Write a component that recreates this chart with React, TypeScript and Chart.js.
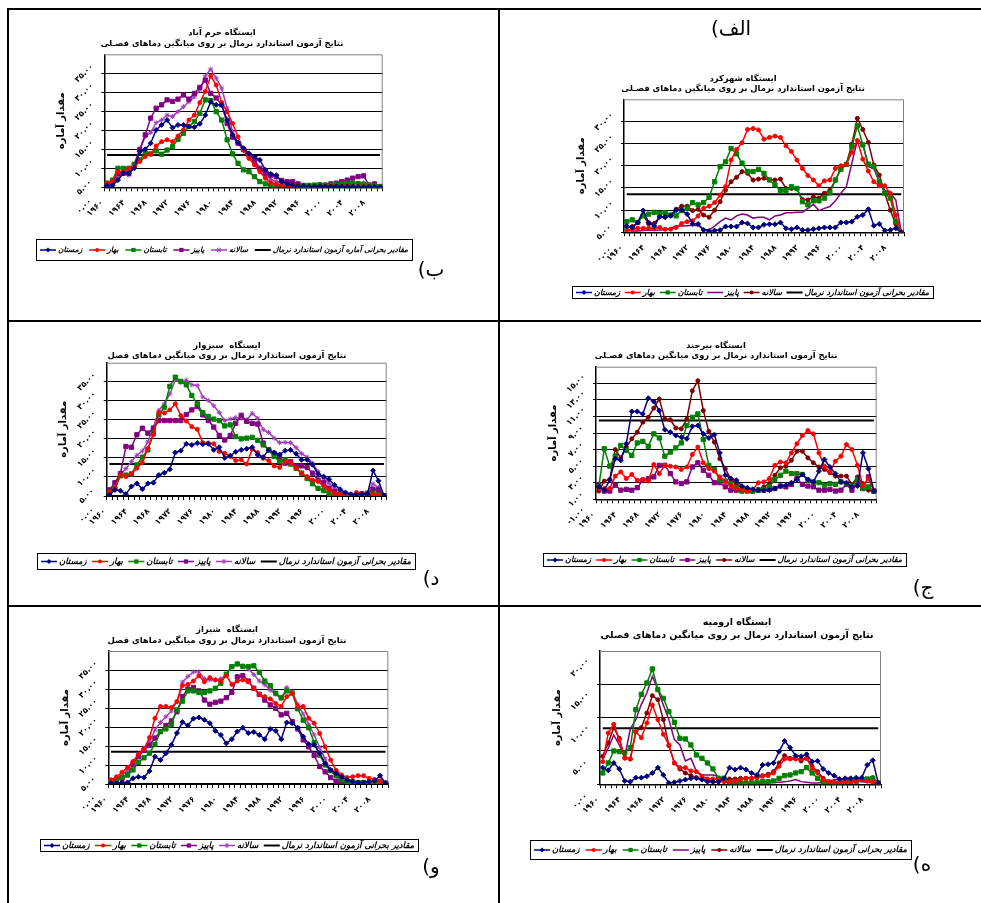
import React, { useEffect, useRef } from 'react';
import { Chart, registerables } from 'chart.js';

Chart.register(...registerables);

const FONT = '"DejaVu Sans", sans-serif';

// ---------- categories & tick labels ----------
const years = [
  1960, 1961, 1962, 1963, 1964, 1965, 1966, 1967, 1968, 1969,
  1970, 1971, 1972, 1973, 1974, 1975, 1976, 1977, 1978, 1979,
  1980, 1981, 1982, 1983, 1984, 1985, 1986, 1987, 1988, 1989,
  1990, 1991, 1992, 1993, 1994, 1995, 1996, 1997, 1998, 1999,
  2000, 2001, 2002, 2003, 2004, 2005, 2006, 2007, 2008, 2009, 2010,
];
const xTickYears = [1960, 1964, 1968, 1972, 1976, 1980, 1984, 1988, 1992, 1996, 2000, 2004, 2008];

const yTicks35 = [0, 5, 10, 15, 20, 25, 30, 35];
const yTicks30 = [0, 5, 10, 15, 20, 25, 30];
const yTicksBirjand = [-1, 1, 3, 5, 7, 9, 11, 13, 15];
const yTicks20 = [0, 5, 10, 15, 20];

const seasonNames = ['زمستان', 'بهار', 'تابستان', 'پاییز', 'سالانه'];
const thresholdNameA = 'مقادیر بحرانی آماره آزمون استاندارد نرمال';
const thresholdName = 'مقادیر بحرانی آزمون استاندارد نرمال';
const subtitleKasheed = 'نتایج آزمون استاندارد نرمال بر روی میانگین دماهای فصـلی';
const subtitlePlain = 'نتایج آزمون استاندارد نرمال بر روی میانگین دماهای فصلی';
const subtitleShort = 'نتایج آزمون استاندارد نرمال بر روی میانگین دماهای فصل';
const yAxisTitle = 'مقدار آماره';

// ---------- Khorramabad (ب) ----------
const khWinter = [0.4,0.5,1.9,3.7,3.7,5.0,9.4,10.0,11.6,15.1, 16.4,17.7,15.7,16.4,16.4,16.0,15.8,16.7,19.0,22.5, 21.7,21.7,17.7,13.8,11.8,10.3,8.9,8.1,7.2,4.6, 3.5,3.2,1.5,0.9,0.5,0.3,0.3,0.2,0.2,0.3, 0.2,0.2,0.3,0.2,0.2,0.2,0.1,0.1,0.1,0.1,0.0];
const khSpring = [1.1,1.5,4.1,4.1,5.0,5.4,6.8,8.1,8.7,10.9, 12.0,12.5,12.0,13.5,15.1,17.7,19.0,22.3,25.2,29.3, 26.9,22.3,19.9,16.8,13.3,9.8,7.6,5.9,4.1,2.4, 1.2,0.8,0.5,0.4,0.3,0.3,0.2,0.2,0.2,0.2, 0.3,0.3,0.3,0.4,0.4,0.3,0.3,0.2,0.2,0.1,0.1];
const khSummer = [1.1,1.9,5.0,5.0,5.0,5.9,7.2,9.1,8.8,9.6, 8.7,9.8,10.7,12.6,14.2,16.0,17.3,19.5,23.0,22.8, 19.9,17.7,12.5,8.8,6.3,4.6,4.1,2.8,1.5,0.9, 0.5,0.4,0.3,0.2,0.3,0.3,0.4,0.5,0.6,0.7, 0.5,0.6,0.8,0.9,1.0,1.1,1.0,0.8,0.6,0.4,0.2];
const khAutumn = [0.2,1.2,3.7,3.7,3.7,5.9,10.0,13.8,18.2,20.8, 21.7,23.0,22.6,23.2,24.3,23.2,24.7,26.3,28.2,24.7, 23.5,21.7,16.8,13.2,11.6,10.0,8.5,7.2,5.0,3.7, 3.2,2.8,1.8,1.5,1.5,0.9,0.5,0.4,0.4,0.4, 0.6,0.9,1.1,1.5,1.9,2.4,2.8,3.0,0.6,0.9,0.2];
const khAnnual = [0.2,0.9,2.8,3.7,3.2,6.3,9.8,13.3,14.4,17.0, 17.7,19.0,18.6,19.9,21.2,22.5,23.8,25.6,29.3,31.1, 28.7,26.1,20.8,14.6,11.6,9.6,8.1,6.3,4.6,3.2, 2.1,1.5,1.1,0.8,0.6,0.5,0.4,0.4,0.3,0.3, 0.4,0.4,0.5,0.6,0.8,0.9,1.0,1.1,0.4,0.5,0.1];
const khThreshold = 8.5;

// ---------- Shahrekord (الف) ----------
const shWinter = [1.4,1.1,2.2,4.9,2.2,1.4,3.5,3.5,3.7,5.0, 5.0,4.1,1.9,1.9,0.5,0.3,0.4,0.5,1.3,1.3, 1.3,2.2,2.0,1.1,1.1,1.7,1.8,1.8,2.2,0.9, 0.7,1.1,0.5,0.5,0.7,0.9,1.1,1.1,1.1,2.2, 2.2,2.4,3.5,3.9,5.2,1.5,1.9,0.4,0.5,0.9,0.0];
const shSpring = [0.5,0.7,0.9,0.9,0.9,0.9,1.1,0.7,0.7,1.1, 2.0,2.4,2.6,3.7,5.4,5.9,6.7,8.4,10.3,16.3, 18.7,20.2,23.2,23.4,23.1,21.0,21.4,21.7,21.4,19.5, 18.2,16.3,14.4,12.8,11.8,10.5,11.6,11.8,14.4,15.0, 15.3,18.0,20.7,16.5,13.8,11.4,10.5,10.5,8.8,3.9,0.0];
const shSummer = [2.4,2.8,2.2,3.7,4.1,4.5,4.3,4.4,3.9,3.7, 4.9,5.4,6.7,6.2,6.7,7.9,11.4,14.8,15.9,18.9, 17.7,15.6,13.7,13.7,14.2,13.3,11.8,10.7,9.4,9.4, 10.3,9.9,6.9,6.2,7.1,7.1,7.7,8.9,11.8,14.2, 15.3,19.3,24.0,19.7,15.4,14.8,11.4,8.8,7.7,2.4,0.0];
const shAutumn = [0.4,0.3,0.3,0.4,0.5,0.4,0.5,0.5,0.9,1.4, 1.4,1.5,1.6,1.5,0.7,0.5,1.4,2.4,3.2,2.8, 3.7,4.1,3.9,3.2,3.4,3.4,2.8,3.7,3.9,4.4, 4.4,4.5,4.5,5.4,6.3,4.9,5.4,5.8,7.1,8.8, 10.3,15.6,20.7,20.1,14.8,14.4,11.4,9.5,8.8,7.3,0.0];
const shAnnual = [1.3,1.3,2.2,3.9,1.9,2.0,3.5,3.4,3.9,5.2, 5.9,5.9,4.9,5.2,3.9,3.4,5.0,6.9,9.5,11.4, 12.4,13.7,13.3,11.8,12.0,12.2,11.8,11.8,12.0,9.9, 9.9,9.8,7.4,7.3,8.0,7.7,8.8,9.5,11.7,14.4, 15.4,19.9,25.7,23.2,20.3,15.2,12.9,8.8,5.0,1.9,0.0];
const shThreshold = 8.6;

// ---------- Sabzevar (د) ----------
const sbWinter = [0.3,1.6,1.4,0.5,2.5,3.3,1.8,3.3,3.5,5.5, 6.1,7.0,11.4,11.9,13.7,13.4,13.9,13.6,13.7,12.1, 12.8,10.0,10.6,11.6,12.1,12.4,12.8,10.8,10.2,12.1, 11.4,10.9,11.9,12.1,11.1,9.5,9.5,8.2,5.8,5.1, 4.4,2.9,1.8,0.9,0.4,0.4,0.5,0.5,6.7,4.0,0.1];
const sbSpring = [1.1,2.0,5.5,5.1,5.8,7.3,8.8,12.5,16.1,21.9, 21.8,22.6,24.2,21.1,19.7,18.2,17.5,14.0,13.9,13.7, 11.7,11.2,10.4,9.3,9.5,8.4,12.3,11.4,9.9,9.3, 7.9,7.5,9.0,8.8,7.3,6.0,5.1,4.2,3.8,2.6, 1.6,0.7,0.4,0.1,0.2,0.9,0.7,0.5,0.4,0.3,0.1];
const sbSummer = [1.1,2.0,5.3,5.5,5.8,8.2,10.2,12.1,16.5,21.3, 23.3,28.8,31.2,30.1,29.2,26.4,24.2,21.9,20.9,20.2, 19.8,18.4,18.7,15.6,15.0,15.2,15.4,14.6,13.4,12.1, 10.4,9.0,9.5,8.4,7.3,6.0,4.6,3.2,2.0,1.4, 0.7,0.3,0.2,0.1,0.1,0.2,0.4,0.5,0.7,0.4,0.1];
const sbAutumn = [1.6,3.5,5.9,13.0,12.8,16.1,17.8,16.5,17.8,19.8, 19.8,19.8,19.8,19.8,21.4,22.6,23.5,21.3,19.8,18.1, 15.9,14.7,15.9,19.1,21.2,19.6,19.1,18.9,13.9,12.1, 11.2,10.2,8.6,9.0,7.9,7.9,7.5,6.0,4.2,3.5, 2.0,1.1,0.5,0.3,0.2,0.3,0.5,0.7,1.8,1.6,0.1];
const sbAnnual = [1.1,3.3,5.5,7.2,9.0,10.7,11.8,14.2,18.1,22.5, 24.2,26.8,30.5,29.8,30.4,29.2,29.0,26.0,25.1,23.7, 21.9,19.8,20.2,20.6,20.4,20.0,21.7,20.4,17.4,16.7, 15.2,14.0,14.1,14.0,12.7,11.1,10.2,8.6,6.4,4.6, 3.3,2.0,1.1,0.7,0.5,0.4,0.7,0.9,3.2,2.2,0.1];
const sbThreshold = 8.4;

// ---------- Birjand (ج) ----------
const bjWinter = [0.5,0.1,1.3,3.9,3.7,5.7,9.6,9.6,9.3,11.2, 10.8,9.7,7.4,7.1,6.7,6.5,6.3,7.8,7.9,6.9, 6.4,6.8,4.6,1.9,1.5,1.3,0.6,0.4,0.2,0.1, 0.1,0.1,0.3,0.6,0.7,1.0,1.4,2.0,1.4,1.1, 2.4,3.8,2.9,2.1,1.1,1.0,0.5,0.6,4.6,2.7,0.0];
const bjSpring = [0.3,0.3,0.3,1.8,2.3,1.5,2.0,1.3,1.4,1.2, 3.2,2.1,3.1,3.0,2.9,2.6,2.9,4.4,5.3,3.4, 2.7,2.4,1.7,1.2,0.6,0.3,0.1,0.0,0.2,1.0, 1.1,1.5,3.1,3.5,3.4,4.6,5.7,6.7,7.3,6.9, 4.6,3.0,2.3,3.6,4.2,5.6,5.0,3.1,0.6,1.5,0.0];
const bjSummer = [0.5,5.1,3.0,4.2,5.5,4.9,4.3,5.8,6.0,5.4, 6.9,6.4,4.2,4.7,5.2,5.8,7.9,8.9,9.3,6.2, 3.1,2.6,1.3,1.2,0.9,0.4,0.1,0.1,0.0,0.1, 0.2,0.5,1.4,1.9,2.4,2.1,2.1,2.0,1.3,1.1, 1.0,0.7,0.9,0.8,1.1,0.9,0.6,1.4,0.3,0.5,0.0];
const bjAutumn = [0.7,0.0,0.0,0.7,0.1,0.2,0.1,0.4,1.3,1.5, 1.7,3.1,3.1,2.1,1.1,0.9,1.1,2.9,3.4,2.5, 1.9,1.0,1.0,0.5,0.1,0.1,0.0,0.0,0.0,0.1, 0.1,0.2,0.3,0.6,0.5,0.8,1.5,0.8,0.6,0.5, 0.1,0.1,0.2,0.0,0.1,0.8,0.1,0.9,0.3,1.7,0.0];
const bjAnnual = [0.0,1.2,1.4,5.0,4.0,5.3,6.3,7.1,8.3,8.9, 10.0,11.1,8.7,8.6,7.6,7.5,8.7,12.1,13.3,9.7, 7.2,5.9,3.9,2.7,1.4,0.9,0.3,0.1,0.1,0.2, 0.5,0.9,1.9,2.8,3.0,3.7,4.8,4.8,4.0,3.4, 2.9,2.6,2.2,1.8,1.8,1.8,0.8,1.7,0.9,0.1,0.0];
const bjThreshold = 8.5;

// ---------- Shiraz (و) ----------
const szWinter = [0.2,0.2,0.4,0.4,1.5,1.9,1.7,3.4,7.2,6.3, 8.1,10.3,13.4,16.3,15.4,17.2,17.5,16.9,16.0,14.0, 12.9,10.7,11.8,13.8,14.8,13.4,13.7,12.9,11.8,14.5, 14.0,11.8,16.2,16.0,14.8,12.5,10.5,10.3,8.1,5.4, 3.7,2.8,1.9,1.1,0.6,0.4,0.4,0.6,0.8,2.2,0.2];
const szSpring = [1.1,1.9,3.1,4.3,5.9,7.9,9.2,12.2,17.3,20.4, 20.4,20.1,21.7,25.9,26.2,27.1,28.5,26.9,28.0,27.4, 27.1,28.5,26.2,27.1,27.4,26.9,25.2,23.6,23.0,22.4, 21.2,20.4,23.0,23.9,20.4,20.4,17.3,16.0,13.3,9.8, 6.3,3.6,2.4,1.7,1.9,2.2,2.2,1.5,1.2,0.8,0.2];
const szSummer = [0.8,1.1,1.7,2.4,3.7,5.7,6.9,8.1,10.4,13.8, 14.5,15.7,19.5,21.8,24.5,24.5,24.1,24.1,24.5,25.2, 26.5,28.9,30.9,31.6,30.9,30.9,31.1,29.4,27.1,25.9, 23.9,22.7,24.5,23.9,19.8,16.8,14.8,10.9,7.6,5.0, 3.5,2.2,1.1,0.6,0.6,0.4,0.4,0.4,0.4,0.6,0.2];
const szAutumn = [0.9,1.1,1.5,2.4,5.2,7.2,8.9,10.2,12.1,13.8, 15.4,16.6,19.0,23.0,25.0,25.4,24.5,22.1,21.0,21.5, 21.8,22.7,24.1,28.2,28.5,27.1,25.2,23.6,22.1,20.8, 19.9,18.2,18.6,16.4,14.5,11.6,9.8,7.5,4.6,3.2, 1.7,0.6,0.2,0.2,0.2,0.2,0.2,0.2,0.2,0.2,0.2];
const szAnnual = [0.9,1.3,2.2,3.7,5.9,7.6,9.4,11.1,14.2,16.2, 17.7,19.2,21.7,26.8,28.3,29.5,29.5,27.7,27.4,27.4, 27.7,28.8,30.9,31.4,31.2,30.3,28.8,27.1,26.1,24.7, 23.6,22.4,25.4,24.2,21.0,18.4,15.7,12.9,9.6,6.6, 3.6,1.9,0.6,0.2,0.2,0.2,0.2,0.2,0.2,0.4,0.2];
const szThreshold = 8.5;

// ---------- Urmia (ه) ----------
const urWinter = [2.5,2.1,3.2,2.3,0.5,0.4,1.0,1.0,1.2,1.7, 2.5,1.4,0.2,0.3,0.5,0.7,0.9,0.9,0.7,0.4, 0.4,0.4,0.9,2.5,2.2,2.5,2.2,1.7,1.4,2.9, 3.0,3.2,4.9,6.5,5.5,4.3,4.2,4.5,3.4,3.5, 2.3,1.7,1.3,0.8,0.9,0.9,1.0,1.0,2.9,3.6,0.2];
const urSpring = [3.4,7.7,9.0,6.7,3.9,3.8,7.9,7.0,9.2,11.9, 9.7,7.5,5.9,3.2,2.5,2.5,2.0,1.9,1.2,0.8, 0.8,0.7,0.4,0.4,0.5,0.7,0.9,0.9,1.0,1.2, 1.3,1.7,2.7,3.8,3.8,3.8,3.8,3.9,2.4,1.7, 0.7,0.4,0.3,0.3,0.4,0.4,0.5,0.7,0.5,0.4,0.2];
const urSummer = [1.7,3.2,5.0,4.9,4.7,5.5,11.2,13.5,15.2,17.3, 14.2,12.9,10.9,9.3,6.9,6.8,5.9,4.4,3.9,3.2, 2.3,0.9,0.9,0.2,0.2,0.2,0.2,0.2,0.3,0.4, 0.4,0.5,0.9,1.3,1.4,1.7,1.9,2.5,1.7,0.9, 0.2,0.2,0.2,0.2,0.3,0.4,0.4,0.7,0.8,0.9,0.2];
const urAutumn = [3.8,5.4,7.4,5.9,4.2,8.3,9.7,12.0,13.7,16.2, 14.2,11.9,9.7,6.7,5.9,3.5,3.9,1.9,1.4,1.4, 1.4,1.2,0.4,0.2,0.2,0.2,0.2,0.2,0.2,0.2, 0.2,0.3,0.3,0.4,0.5,0.7,0.4,0.3,0.2,0.2, 0.3,0.5,0.7,0.8,0.7,0.6,0.5,0.4,0.3,0.2,0.1];
const urAnnual = [4.2,6.2,8.5,6.9,4.0,3.8,7.9,8.5,10.7,13.3, 12.7,9.7,5.8,3.2,2.3,1.7,1.3,1.0,0.8,0.7, 0.4,0.4,0.5,0.8,0.8,0.9,0.9,0.9,1.2,1.3, 1.5,1.9,3.2,4.3,3.9,3.9,3.5,3.9,2.7,1.9, 0.9,0.4,0.2,0.3,0.7,0.8,0.8,0.9,0.5,1.0,0.2];
const urThreshold = 8.4;

// ---------- styles ----------
const C_WIN = '#000080';
const C_SPR = '#ff0000';
const C_SUM = '#008000';
const C_AUT = '#800080';
const C_ANN_P = '#a040b8';
const C_ANN_R = '#800000';

type MarkerStyle = { color: string; point: string | false; r: number };

const styleSetPurple: MarkerStyle[] = [
  { color: C_WIN, point: 'rectRot', r: 2.5 },
  { color: C_SPR, point: 'circle', r: 2 },
  { color: C_SUM, point: 'rect', r: 3 },
  { color: C_AUT, point: 'rect', r: 3 },
  { color: C_ANN_P, point: 'star', r: 2.5 },
];
const styleSetRed: MarkerStyle[] = [
  { color: C_WIN, point: 'rectRot', r: 2.5 },
  { color: C_SPR, point: 'circle', r: 2 },
  { color: C_SUM, point: 'rect', r: 3 },
  { color: C_AUT, point: false, r: 0 },
  { color: C_ANN_R, point: 'circle', r: 2 },
];
const styleSetRedSq: MarkerStyle[] = [
  { color: C_WIN, point: 'rectRot', r: 2.5 },
  { color: C_SPR, point: 'circle', r: 2 },
  { color: C_SUM, point: 'rect', r: 3 },
  { color: C_AUT, point: 'rect', r: 3 },
  { color: C_ANN_R, point: 'circle', r: 2 },
];

const FA_DIGITS = '۰۱۲۳۴۵۶۷۸۹';
const fa = (s: string) => s.replace(/[0-9]/g, (d) => FA_DIGITS[+d]);

interface PanelCfg {
  box: { x: number; y: number; w: number; h: number };
  plot: { l: number; t: number; r: number; b: number };
  title: [string, string];
  titleX: number;
  titleY: [number, number];
  titleW: number;
  yMin: number; yMax: number; yStep: number; yShift: number; yLabels: number[];
  series: number[][];
  threshold: number;
  styles: MarkerStyle[];
  legend: { l: number; t: number; r: number; b: number; thresholdText: string };
  tag: { text: string; x: number; y: number };
}

const panels: PanelCfg[] = [
  {
    box: { x: 9, y: 10, w: 489, h: 310 },
    plot: { l: 104.3, t: 54.3, r: 382.7, b: 187.3 },
    title: ['ایستگاه خرم آباد', subtitleKasheed], titleX: 222, titleY: [33, 44], titleW: 243,
    yMin: 0, yMax: 35, yStep: 5, yShift: 5, yLabels: yTicks35,
    series: [khWinter, khSpring, khSummer, khAutumn, khAnnual], threshold: khThreshold,
    styles: styleSetPurple,
    legend: { l: 36, t: 239, r: 412, b: 260, thresholdText: thresholdNameA },
    tag: { text: 'ب)', x: 431, y: 271 },
  },
  {
    box: { x: 500, y: 10, w: 481, h: 310 },
    plot: { l: 624, t: 99.3, r: 904, b: 232.3 },
    title: ['ایستگاه شهرکرد', subtitleKasheed], titleX: 743, titleY: [79, 89], titleW: 244,
    yMin: 0, yMax: 30, yStep: 5, yShift: 5, yLabels: yTicks30,
    series: [shWinter, shSpring, shSummer, shAutumn, shAnnual], threshold: shThreshold,
    styles: styleSetRed,
    legend: { l: 572, t: 286, r: 933, b: 298, thresholdText: thresholdName },
    tag: { text: 'الف)', x: 731, y: 30 },
  },
  {
    box: { x: 9, y: 322, w: 489, h: 283 },
    plot: { l: 106.7, t: 362.7, r: 386.7, b: 496 },
    title: ['ایستگاه  سبزوار', subtitleShort], titleX: 227, titleY: [346, 356], titleW: 239,
    yMin: 0, yMax: 35, yStep: 5, yShift: 5, yLabels: yTicks35,
    series: [sbWinter, sbSpring, sbSummer, sbAutumn, sbAnnual], threshold: sbThreshold,
    styles: styleSetPurple,
    legend: { l: 37, t: 553, r: 415, b: 569, thresholdText: thresholdName },
    tag: { text: 'د)', x: 431, y: 580 },
  },
  {
    box: { x: 500, y: 322, w: 481, h: 283 },
    plot: { l: 596, t: 366.7, r: 876.7, b: 499.3 },
    title: ['ایستگاه بیرجند', subtitleKasheed], titleX: 716, titleY: [346, 356], titleW: 243,
    yMin: -1, yMax: 15, yStep: 2, yShift: 2, yLabels: yTicksBirjand,
    series: [bjWinter, bjSpring, bjSummer, bjAutumn, bjAnnual], threshold: bjThreshold,
    styles: styleSetRedSq,
    legend: { l: 543, t: 553, r: 906, b: 566, thresholdText: thresholdName },
    tag: { text: 'ج)', x: 923, y: 589 },
  },
  {
    box: { x: 9, y: 607, w: 489, h: 296 },
    plot: { l: 108.3, t: 651, r: 388.3, b: 784 },
    title: ['ایستگاه  شیراز', subtitleShort], titleX: 227, titleY: [630, 641], titleW: 239,
    yMin: 0, yMax: 35, yStep: 5, yShift: 5, yLabels: yTicks35,
    series: [szWinter, szSpring, szSummer, szAutumn, szAnnual], threshold: szThreshold,
    styles: styleSetPurple,
    legend: { l: 40, t: 839, r: 418, b: 851, thresholdText: thresholdName },
    tag: { text: 'و)', x: 431, y: 868 },
  },
  {
    box: { x: 500, y: 607, w: 481, h: 296 },
    plot: { l: 600, t: 651, r: 881, b: 784.3 },
    title: ['ایستگاه ارومیه', subtitlePlain], titleX: 737, titleY: [623, 636], titleW: 273,
    yMin: 0, yMax: 20, yStep: 5, yShift: 2.5, yLabels: yTicks20,
    series: [urWinter, urSpring, urSummer, urAutumn, urAnnual], threshold: urThreshold,
    styles: styleSetRed,
    legend: { l: 530, t: 840, r: 911, b: 859, thresholdText: thresholdName },
    tag: { text: 'ه)', x: 922, y: 866 },
  },
];

function drawMarker(ctx: CanvasRenderingContext2D, style: string, x: number, y: number, r: number, color: string) {
  ctx.save();
  ctx.fillStyle = color;
  ctx.strokeStyle = color;
  ctx.lineWidth = 1;
  ctx.beginPath();
  if (style === 'circle') {
    ctx.arc(x, y, r, 0, Math.PI * 2);
    ctx.fill();
  } else if (style === 'rect') {
    const s = r * Math.SQRT1_2;
    ctx.rect(x - s, y - s, 2 * s, 2 * s);
    ctx.fill();
  } else if (style === 'rectRot') {
    ctx.moveTo(x, y - r); ctx.lineTo(x + r, y); ctx.lineTo(x, y + r); ctx.lineTo(x - r, y);
    ctx.closePath();
    ctx.fill();
  } else if (style === 'star') {
    ctx.moveTo(x - r, y); ctx.lineTo(x + r, y);
    ctx.moveTo(x, y - r); ctx.lineTo(x, y + r);
    const d = r * Math.SQRT1_2;
    ctx.moveTo(x - d, y - d); ctx.lineTo(x + d, y + d);
    ctx.moveTo(x - d, y + d); ctx.lineTo(x + d, y - d);
    ctx.stroke();
  }
  ctx.restore();
}

function makeDecor(cfg: PanelCfg) {
  const ox = cfg.box.x;
  const oy = cfg.box.y;
  return {
    id: 'decor',
    beforeDatasetsDraw(chart: any) {
      const { ctx, chartArea: a } = chart;
      ctx.save();
      ctx.strokeStyle = '#808080';
      ctx.lineWidth = 1;
      ctx.beginPath();
      ctx.moveTo(a.left, a.top + 0.5);
      ctx.lineTo(a.right - 0.5, a.top + 0.5);
      ctx.lineTo(a.right - 0.5, a.bottom);
      ctx.stroke();
      ctx.restore();
    },
    afterDraw(chart: any) {
      const ctx: CanvasRenderingContext2D = chart.ctx;
      const a = chart.chartArea;
      const xs = chart.scales.x;
      const ys = chart.scales.y;
      ctx.save();
      ctx.fillStyle = '#000';

      // y tick labels (rotated)
      ctx.font = `bold 8px ${FONT}`;
      ctx.textAlign = 'center';
      ctx.textBaseline = 'middle';
      for (const v of cfg.yLabels) {
        const py = ys.getPixelForValue(v - cfg.yShift);
        ctx.save();
        ctx.translate(a.left - 20, py);
        ctx.rotate(-Math.PI / 4);
        ctx.fillText(fa(v.toFixed(2)), 0, 0);
        ctx.restore();
      }

      // x tick labels (rotated)
      ctx.textAlign = 'right';
      for (const yr of xTickYears) {
        const idx = years.indexOf(yr);
        const px = xs.getPixelForValue(idx);
        ctx.save();
        ctx.translate(px - 5, a.bottom + 14);
        ctx.rotate(-Math.PI / 4);
        ctx.fillText(fa(String(yr)), 0, 0);
        ctx.restore();
      }

      // y-axis title
      ctx.font = `bold 10px ${FONT}`;
      ctx.textAlign = 'center';
      ctx.save();
      ctx.translate(a.left - 43, (a.top + a.bottom) / 2);
      ctx.rotate(-Math.PI / 2);
      ctx.fillText(yAxisTitle, 0, 0);
      ctx.restore();

      // titles
      ctx.font = `bold 10px ${FONT}`;
      const mw = ctx.measureText(cfg.title[1]).width;
      const tsize = (10 * cfg.titleW) / mw;
      ctx.font = `bold ${tsize.toFixed(2)}px ${FONT}`;
      ctx.fillText(cfg.title[0], cfg.titleX - ox, cfg.titleY[0] - oy);
      ctx.fillText(cfg.title[1], cfg.titleX - ox, cfg.titleY[1] - oy);

      // legend
      const L = cfg.legend;
      const lx = L.l - ox, ly = L.t - oy, lw = L.r - L.l, lh = L.b - L.t;
      ctx.strokeStyle = '#000';
      ctx.lineWidth = 1;
      ctx.strokeRect(lx + 0.5, ly + 0.5, lw, lh);
      const ds = chart.data.datasets;
      const symW = 16;
      let fsize = 9;
      let textWs: number[] = [];
      let gap = 0;
      for (let k = 0; k < 8; k++) {
        ctx.font = `italic bold ${fsize}px ${FONT}`;
        textWs = ds.map((d: any) => ctx.measureText(d.label).width);
        const total = textWs.reduce((s, w) => s + w + symW + 2, 0);
        gap = (lw - 8 - total) / (ds.length - 1);
        if (gap >= 4) break;
        fsize -= 0.5;
      }
      ctx.textAlign = 'left';
      ctx.textBaseline = 'middle';
      const cy = ly + lh / 2 + 0.5;
      let cx = lx + 4;
      ds.forEach((d: any, i: number) => {
        ctx.strokeStyle = d.borderColor;
        ctx.lineWidth = d.borderWidth;
        ctx.beginPath();
        ctx.moveTo(cx, cy);
        ctx.lineTo(cx + symW, cy);
        ctx.stroke();
        if (d.pointStyle && d.pointRadius > 0) {
          drawMarker(ctx, d.pointStyle, cx + symW / 2, cy, d.pointRadius, d.borderColor);
        }
        ctx.fillStyle = '#000';
        ctx.fillText(d.label, cx + symW + 2, cy);
        cx += symW + 2 + textWs[i] + gap;
      });

      // panel tag
      ctx.font = `20px ${FONT}`;
      ctx.textAlign = 'center';
      (ctx as any).direction = 'rtl';
      ctx.fillText(cfg.tag.text, cfg.tag.x - ox, cfg.tag.y - oy);
      ctx.restore();
    },
  };
}

function buildConfig(cfg: PanelCfg): any {
  const labels = years.map(String);
  const datasets: any[] = cfg.series.map((data, i) => {
    const st = cfg.styles[i];
    return {
      label: seasonNames[i],
      data,
      borderColor: st.color,
      backgroundColor: st.color,
      borderWidth: 1.5,
      pointStyle: st.point || 'circle',
      pointRadius: st.point ? st.r : 0,
      pointBorderWidth: 1,
      pointBackgroundColor: st.color,
      pointBorderColor: st.color,
      tension: 0,
      fill: false,
    };
  });
  datasets.push({
    label: cfg.legend.thresholdText,
    data: [
      { x: labels[0], y: cfg.threshold },
      { x: labels[labels.length - 1], y: cfg.threshold },
    ],
    borderColor: '#000',
    backgroundColor: '#000',
    borderWidth: 2,
    pointRadius: 0,
    tension: 0,
    fill: false,
  });

  const yAxisW = 3;
  const xAxisH = 4;
  const padding = {
    left: cfg.plot.l - cfg.box.x - yAxisW,
    top: cfg.plot.t - cfg.box.y,
    right: cfg.box.x + cfg.box.w - cfg.plot.r,
    bottom: cfg.box.y + cfg.box.h - cfg.plot.b - xAxisH,
  };

  return {
    type: 'line',
    data: { labels, datasets },
    options: {
      animation: false,
      responsive: false,
      maintainAspectRatio: false,
      events: [],
      layout: { padding },
      plugins: {
        legend: { display: false },
        title: { display: false },
        tooltip: { enabled: false },
      },
      scales: {
        x: {
          type: 'category',
          offset: true,
          ticks: { display: false, autoSkip: false },
          grid: {
            display: true,
            drawOnChartArea: false,
            drawTicks: true,
            tickLength: 4,
            color: '#000',
            offset: true,
          },
          border: { display: true, color: '#000', width: 1.5 },
          afterFit: (s: any) => { s.height = xAxisH; },
        },
        y: {
          type: 'linear',
          min: cfg.yMin,
          max: cfg.yMax,
          ticks: { display: false, stepSize: cfg.yStep },
          grid: {
            display: true,
            drawTicks: true,
            tickLength: 3,
            lineWidth: 1,
            color: (c: any) => (c.tick && c.tick.value >= cfg.yMax - 1e-9 ? 'rgba(0,0,0,0)' : '#000'),
          },
          border: { display: true, color: '#000', width: 1.5 },
          afterFit: (s: any) => { s.width = yAxisW; },
        },
      },
    },
    plugins: [makeDecor(cfg)],
  };
}

function Panel({ cfg }: { cfg: PanelCfg }) {
  const ref = useRef<HTMLCanvasElement>(null);
  useEffect(() => {
    if (!ref.current) return;
    const chart = new Chart(ref.current, buildConfig(cfg));
    return () => chart.destroy();
  }, [cfg]);
  return (
    <canvas
      ref={ref}
      width={cfg.box.w}
      height={cfg.box.h}
      style={{ position: 'absolute', left: cfg.box.x, top: cfg.box.y, width: cfg.box.w, height: cfg.box.h }}
    />
  );
}

const line = (left: number, top: number, width: number, height: number) => (
  <div style={{ position: 'absolute', left, top, width, height, background: '#000' }} />
);

export default function App() {
  return (
    <div style={{ position: 'absolute', left: 0, top: 0, width: 981, height: 903, background: '#fff', overflow: 'hidden' }}>
      {panels.map((p, i) => (
        <Panel key={i} cfg={p} />
      ))}
      {line(7, 8, 974, 2)}
      {line(7, 8, 2, 895)}
      {line(498, 8, 2, 895)}
      {line(7, 320, 974, 2)}
      {line(7, 605, 974, 2)}
    </div>
  );
}
